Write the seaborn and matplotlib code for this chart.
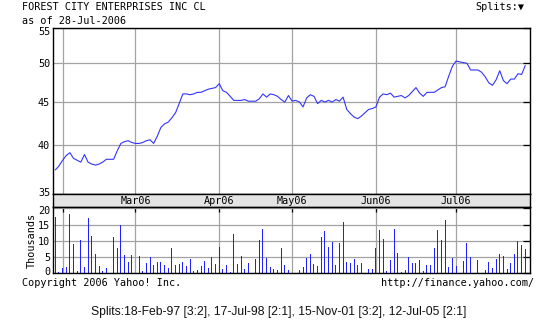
import numpy as np
import pandas as pd
import matplotlib
matplotlib.use("Agg")
import matplotlib.pyplot as plt
import matplotlib.transforms as mtransforms
import seaborn as sns
from matplotlib.ticker import FixedLocator, NullLocator, FixedFormatter

# ---------------- data ----------------
title = "FOREST CITY ENTERPRISES INC CL"
subtitle = "as of 28-Jul-2006"
dates = pd.bdate_range("2006-01-30", "2006-07-28")   # weekday slots

price = [
    37.4, 37.8,
    38.4, 38.9, 39.2, 38.6, 38.4, 38.2, 39.0, 38.2, 38.0, 37.9, 38.0, 38.2, 38.5, None,
    38.5, 39.4, 40.2, 40.4, 40.5, 40.3,
    40.2, 40.2, 40.3, 40.5, 40.6, 40.2, 41.0, 42.0, 42.4, 42.6, 43.1, 43.7, 44.8, 46.0,
    46.0, 45.9, 46.0, 46.2, 46.2, 46.4, 46.6, 46.7, 46.8,
    47.3, 46.4, 46.2, 45.7, 45.2, 45.2, 45.2, 45.3, 45.1, None,
    45.1, 45.4, 46.0, 45.6, 46.0, 45.9, 45.7, 45.3, 45.0, 45.8,
    45.1, 45.2, 45.0, 44.4, 45.5, 45.9, 45.7, 44.8, 45.2, 45.0, 45.2, 45.0, 45.3, 45.1,
    45.6, 44.1, 43.6, 43.2, 43.0, 43.3, None, 44.1, 44.2,
    44.4, 45.6, 46.0, 45.9, 46.1, 45.6, 45.7, 45.8, 45.5, 45.8, 46.3, 46.8, 46.1, 45.7,
    46.2, 46.2, 46.2, 46.5, 46.8, 46.9, 48.3, 49.6,
    50.3, None, 50.1, 50.0, 49.1, 49.1, 49.1, 48.8, 48.2, 47.4, 47.1, 47.8, 49.0, 47.7,
    47.3, 47.9, 47.9, 48.6, 48.5, 49.7,
]

volume = [  # thousands of shares
    17.3, 0.4,
    1.6, 1.9, 18.3, 9.0, 0.7, 10.3, 1.9, 17.0, 11.5, 5.9, 2.3, 0.7, 1.6, 0, 11.2, 7.8,
    14.9, 5.6, 3.5, 5.6,
    0, 5.3, 0.7, 3.2, 5.0, 2.6, 3.5, 3.5, 2.6, 1.6, 7.8, 2.6, 2.9, 3.5, 2.3, 4.4, 0.7,
    1.0, 2.3, 3.8, 1.6, 5.0, 2.9,
    8.1, 1.3, 2.6, 0.4, 12.1, 2.9, 5.3, 1.3, 3.2, 0, 4.4, 10.3, 13.6, 4.7, 1.9, 1.3, 1.0,
    7.8, 2.6, 1.0,
    0, 0, 1.0, 1.9, 4.7, 5.9, 2.9, 2.3, 11.2, 13.0, 8.1, 9.6, 2.6, 9.3, 15.8, 3.5, 3.2,
    4.4, 2.6, 3.2, 0, 1.3, 1.3,
    7.8, 13.3, 10.6, 0.7, 4.1, 13.6, 6.3, 0.4, 1.0, 5.0, 3.2, 3.2, 4.1, 0.7, 2.6, 2.6,
    7.8, 13.3, 10.3, 16.4, 1.9, 4.7,
    2.3, 0, 3.8, 9.3, 5.0, 0, 4.1, 0, 1.0, 3.5, 1.6, 4.4, 5.9, 5.3, 1.3, 3.2, 5.9, 9.9,
    8.7, 7.5,
]

month_labels = ["", "Mar06", "Apr06", "May06", "Jun06", "Jul06"]
price_ticks = [35, 40, 45, 50, 55]
volume_ticks = [0, 5, 10, 15, 20]
splits_text = "Splits:18-Feb-97 [3:2], 17-Jul-98 [2:1], 15-Nov-01 [3:2], 12-Jul-05 [2:1]"

# ---------------- frame ----------------
df = pd.DataFrame({"date": dates, "price": price, "volume": volume})
df["slot"] = np.arange(len(df))
df["price"] = pd.to_numeric(df["price"])
line_df = df.dropna(subset=["price"])
month_slots = [i for i in range(1, len(df)) if df["date"][i].month != df["date"][i - 1].month]

sns.set_theme(style="white")
plt.rcParams["font.family"] = ["DejaVu Sans Mono", "DejaVu Sans"]

W, H = 560, 320
fig = plt.figure(figsize=(W / 100, H / 100), dpi=100)
fig.patch.set_facecolor("white")


def rect(x0, y0, x1, y1):
    return [x0 / W, 1 - y1 / H, (x1 - x0) / W, (y1 - y0) / H]


ax_p = fig.add_axes(rect(53, 28.3, 530, 194.3))
ax_b = fig.add_axes(rect(53, 194.3, 530, 207.3), sharex=ax_p)
ax_v = fig.add_axes(rect(53, 207.3, 530, 273.3), sharex=ax_p)

LINE_BLUE = "#3434ff"
BAR_BLUE = "#1f1fff"
GRID = "#a3a3a3"
FS = 7.3

xlim = (-0.63, 130.3)

# price panel
sns.lineplot(data=line_df, x="slot", y="price", ax=ax_p, color=LINE_BLUE, linewidth=0.8)
ax_p.set_yscale("log")
ax_p.set_ylim(35, 55)
ax_p.yaxis.set_major_locator(FixedLocator(price_ticks))
ax_p.yaxis.set_major_formatter(FixedFormatter([str(t) for t in price_ticks]))
ax_p.yaxis.set_minor_locator(NullLocator())
ax_p.xaxis.set_major_locator(FixedLocator(month_slots))
ax_p.set_xlim(*xlim)
ax_p.grid(True, color=GRID, linewidth=0.9)
ax_p.set_xlabel("")
ax_p.set_ylabel("")
ax_p.tick_params(axis="x", length=0, labelbottom=False)
ax_p.tick_params(axis="y", left=False, right=True, direction="in", length=5,
                 color="black", width=0.9, labelsize=FS, pad=2, labelcolor="black")

# band with month labels
ax_b.set_facecolor("#e4e4e4")
ax_b.set_ylim(0, 1)
ax_b.tick_params(axis="both", length=0, labelbottom=False, labelleft=False)
ax_b.set_yticks([])
for s, lab in zip(month_slots, month_labels):
    if lab:
        ax_b.text(s, 0.45, lab, ha="center", va="center", fontsize=FS, color="black")

# volume panel
sns.barplot(data=df, x="slot", y="volume", ax=ax_v, native_scale=True, color=BAR_BLUE,
            saturation=1, width=0.28, errorbar=None, linewidth=0, antialiased=False)
ax_v.set_ylim(0, 20.3)
ax_v.yaxis.set_major_locator(FixedLocator(volume_ticks))
ax_v.yaxis.set_major_formatter(FixedFormatter([str(t) for t in volume_ticks]))
ax_v.xaxis.set_major_locator(FixedLocator(month_slots))
ax_v.set_xlim(*xlim)
ax_v.grid(True, color=GRID, linewidth=0.9)
ax_v.set_axisbelow(True)
ax_v.set_xlabel("")
ax_v.set_ylabel("Thousands", fontsize=FS, color="black", labelpad=1)
ax_v.tick_params(axis="x", top=True, bottom=False, direction="in", length=3.5,
                 color="black", width=0.9, labelbottom=False, labeltop=False)
ax_v.tick_params(axis="y", left=False, right=True, direction="in", length=5,
                 color="black", width=0.9, labelsize=FS, pad=2, labelcolor="black")

for a in (ax_p, ax_b, ax_v):
    for sp in a.spines.values():
        sp.set_color("black")
        sp.set_linewidth(1.0)
        sp.set_visible(True)
ax_p.set_xlim(*xlim)


# nudge the end labels inward, as in the reference
def nudge(label, dy_px):
    label.set_transform(label.get_transform() +
                        mtransforms.ScaledTranslation(0, dy_px / 100, fig.dpi_scale_trans))


plabels = ax_p.get_yticklabels()
nudge(plabels[0], 2.5)
nudge(plabels[-1], -3)
vlabels = ax_v.get_yticklabels()
nudge(vlabels[0], 2)
nudge(vlabels[-1], -1.5)


# texts
def ftext(x, y, s, **kw):
    fig.text(x / W, 1 - y / H, s, **kw)


ftext(21.5, 7.5, title, fontsize=FS, ha="left", va="center", color="black")
ftext(21.5, 20.5, subtitle, fontsize=FS, ha="left", va="center", color="black")
ftext(475.5, 7.5, "Splits:\u25bc", fontsize=FS, ha="left", va="center", color="black")
ftext(21.5, 283, "Copyright 2006 Yahoo! Inc.", fontsize=FS, ha="left", va="center", color="black")
ftext(534, 283, "http://finance.yahoo.com/", fontsize=FS, ha="right", va="center", color="black")
ftext(278.5, 311.5, splits_text, fontsize=8.7, ha="center", va="center", color="#111111",
      family=["Liberation Sans", "DejaVu Sans"])

fig.savefig("out.png", dpi=100, facecolor="white")
